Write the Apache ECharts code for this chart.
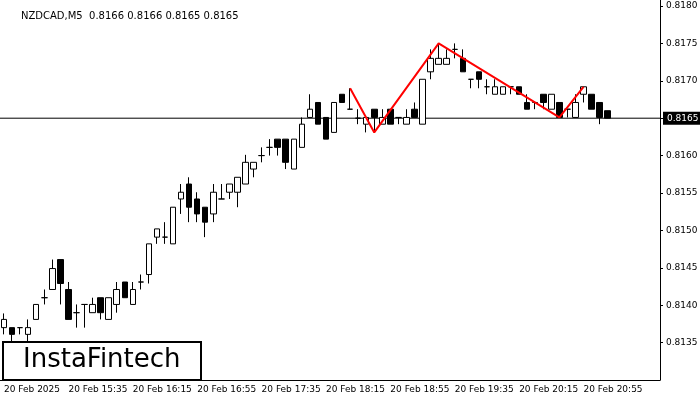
<!DOCTYPE html>
<html>
<head>
<meta charset="utf-8">
<script src="https://cdn.jsdelivr.net/npm/echarts@6/dist/echarts.min.js"></script>
<style>html,body{margin:0;padding:0;background:#fff}</style>
</head>
<body>
<div id="main" style="width:700px;height:400px"></div>
<script>
// candles: [open, close, low, high]
var candles = [
 [0.81370,0.81381,0.81361,0.81389],[0.81370,0.81361,0.81351,0.81370],[0.81370,0.81370,0.81361,0.81370],
 [0.81361,0.81370,0.81351,0.81381],[0.81381,0.81401,0.81381,0.81401],[0.81410,0.81410,0.81401,0.81421],
 [0.81421,0.81449,0.81421,0.81461],[0.81461,0.81429,0.81401,0.81461],[0.81421,0.81381,0.81381,0.81431],
 [0.81390,0.81390,0.81370,0.81401],[0.81401,0.81401,0.81370,0.81401],[0.81390,0.81401,0.81390,0.81410],
 [0.81410,0.81390,0.81381,0.81410],[0.81381,0.81410,0.81381,0.81410],[0.81401,0.81421,0.81390,0.81431],
 [0.81431,0.81410,0.81410,0.81431],[0.81401,0.81421,0.81401,0.81431],[0.81431,0.81431,0.81421,0.81441],
 [0.81441,0.81482,0.81429,0.81482],[0.81491,0.81502,0.81482,0.81502],[0.81491,0.81491,0.81482,0.81511],
 [0.81482,0.81531,0.81482,0.81531],[0.81542,0.81551,0.81522,0.81562],[0.81562,0.81531,0.81511,0.81571],
 [0.81542,0.81522,0.81511,0.81551],[0.81531,0.81511,0.81491,0.81531],[0.81522,0.81551,0.81511,0.81562],
 [0.81542,0.81542,0.81542,0.81562],[0.81551,0.81562,0.81542,0.81562],[0.81551,0.81571,0.81531,0.81571],
 [0.81562,0.81591,0.81562,0.81601],[0.81582,0.81591,0.81571,0.81591],[0.81600,0.81600,0.81591,0.81611],
 [0.81611,0.81611,0.81600,0.81622],[0.81622,0.81611,0.81600,0.81622],[0.81622,0.81591,0.81582,0.81622],
 [0.81582,0.81622,0.81582,0.81622],[0.81611,0.81642,0.81611,0.81651],[0.81651,0.81662,0.81651,0.81682],
 [0.81671,0.81642,0.81642,0.81671],[0.81651,0.81622,0.81622,0.81651],[0.81631,0.81671,0.81631,0.81671],
 [0.81682,0.81671,0.81671,0.81682],[0.81662,0.81662,0.81662,0.81690],[0.81650,0.81650,0.81642,0.81662],
 [0.81642,0.81651,0.81631,0.81651],[0.81662,0.81651,0.81631,0.81662],[0.81642,0.81651,0.81642,0.81662],
 [0.81662,0.81642,0.81642,0.81662],[0.81651,0.81651,0.81642,0.81651],[0.81642,0.81651,0.81642,0.81662],
 [0.81662,0.81651,0.81651,0.81671],[0.81642,0.81702,0.81642,0.81702],[0.81712,0.81730,0.81702,0.81742],
 [0.81722,0.81730,0.81722,0.81750],[0.81722,0.81730,0.81722,0.81742],[0.81742,0.81742,0.81730,0.81750],
 [0.81730,0.81712,0.81712,0.81742],[0.81702,0.81702,0.81690,0.81702],[0.81712,0.81702,0.81690,0.81712],
 [0.81692,0.81692,0.81682,0.81702],[0.81682,0.81692,0.81682,0.81702],[0.81682,0.81692,0.81682,0.81692],
 [0.81692,0.81692,0.81682,0.81692],[0.81692,0.81682,0.81682,0.81692],[0.81671,0.81662,0.81662,0.81682],
 [0.81671,0.81671,0.81662,0.81671],[0.81682,0.81671,0.81662,0.81682],[0.81662,0.81682,0.81662,0.81682],
 [0.81671,0.81651,0.81651,0.81671],[0.81662,0.81662,0.81651,0.81662],[0.81651,0.81671,0.81651,0.81682],
 [0.81682,0.81692,0.81671,0.81692],[0.81682,0.81662,0.81662,0.81682],[0.81671,0.81651,0.81642,0.81671],
 [0.81660,0.81650,0.81650,0.81660]
];
// head & shoulders pattern line: [candle index, price]
var patternPts = [[43,0.81690],[46,0.81631],[54,0.81750],[69,0.81651],[72,0.81692]];
var lastPrice = 0.8165;
var startMin = 14*60+55;
var totalSlots = 82;
var lastLabelIdx = 72;

var cats = [];
for (var i=0;i<totalSlots;i++){
    var m = startMin + i*5;
    var hh = Math.floor(m/60), mm = m%60;
    cats.push(i==0 ? '20 Feb 2025' : '20 Feb ' + hh + ':' + (mm<10?'0':'') + mm);
}
var lineData = cats.map(function(){return null});
patternPts.forEach(function(p){ lineData[p[0]] = p[1] });

var chart = echarts.init(document.getElementById('main'));
chart.setOption({
    animation:false,
    title:{text:'NZDCAD,M5  0.8166 0.8166 0.8165 0.8165',left:16,top:6,
        textStyle:{fontSize:10,fontWeight:'normal',color:'#000',fontFamily:'DejaVu Sans'}},
    grid:{left:0,right:40,top:0,bottom:20,outerBoundsMode:'none',containLabel:false},
    xAxis:[{type:'category',data:cats,boundaryGap:true,
        axisLine:{onZero:false,lineStyle:{color:'#000'}},
        axisTick:{interval:7,length:3,lineStyle:{color:'#000'}},
        axisLabel:{interval:7,align:'left',margin:5,fontSize:9,color:'#000',fontFamily:'DejaVu Sans',
            formatter:function(v,idx){return idx>lastLabelIdx?'':v}},
        splitLine:{show:false}},
        {type:'value',min:0,max:1,show:false}],
    yAxis:{type:'value',position:'right',min:0.8130,max:0.81808,interval:0.0005,
        axisLine:{show:true,onZero:false,lineStyle:{color:'#000'}},
        axisTick:{show:true,length:3,lineStyle:{color:'#000'}},
        axisLabel:{showMinLabel:false,showMaxLabel:false,fontSize:9,color:'#000',margin:6,
            fontFamily:'DejaVu Sans',formatter:function(v){return v.toFixed(4)}},
        splitLine:{show:false}},
    series:[
        {type:'line',xAxisIndex:1,data:[[0,lastPrice],[1,lastPrice]],symbol:'none',silent:true,z:1,
            lineStyle:{color:'#000',width:1},
            endLabel:{show:true,formatter:function(){return lastPrice.toFixed(4)},
                backgroundColor:'#000',color:'#fff',fontSize:9,fontFamily:'DejaVu Sans',padding:[2,4],distance:3}},
        {type:'candlestick',data:candles,barWidth:6,z:2,
            itemStyle:{color:'#fff',color0:'#000',borderColor:'#000',borderColor0:'#000',borderWidth:1}},
        {type:'line',data:lineData,connectNulls:true,symbol:'none',z:3,
            lineStyle:{color:'#ff0000',width:2}}
    ],
    graphic:[{type:'group',left:2,top:341,children:[
        {type:'rect',shape:{x:0,y:0,width:198,height:38},style:{fill:'#fff',stroke:'#000',lineWidth:2}},
        {type:'text',left:20,top:5,style:{text:'InstaFintech',font:'26px "DejaVu Sans"',fill:'#000'}}
    ]}]
});
</script>
</body>
</html>
